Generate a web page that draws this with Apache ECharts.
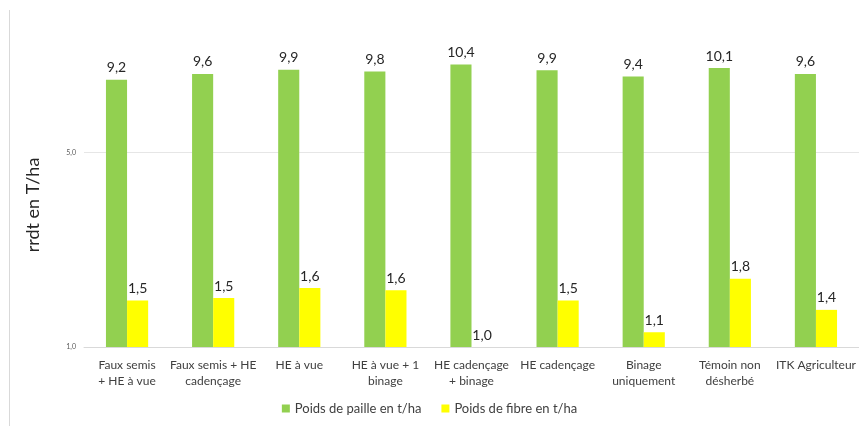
<!DOCTYPE html>
<html><head><meta charset="utf-8">
<script src="https://cdn.jsdelivr.net/npm/echarts@6/dist/echarts.min.js"></script>
<style>html,body{margin:0;padding:0;background:#fff}#c{width:859px;height:426px}</style>
</head><body><div id="c"></div>
<script>
const categories = ["Faux semis\n+ HE à vue", "Faux semis + HE\ncadençage", "HE à vue", "HE à vue + 1\nbinage", "HE cadençage\n+ binage", "HE cadençage", "Binage\nuniquement", "Témoin non\ndésherbé", "ITK Agriculteur"];
const seriesNames = ["Poids de paille en t/ha", "Poids de fibre en t/ha"];
const paille = [9.15, 9.6, 9.93, 9.8, 10.38, 9.9, 9.4, 10.07, 9.6];
const fibre = [1.47, 1.5, 1.63, 1.6, 1.0, 1.47, 1.13, 1.76, 1.36];
const yTickValues = [1, 5];

const FONT = 'Lato, "Open Sans", sans-serif';
const chart = echarts.init(document.getElementById('c'), null, {renderer: 'canvas'});
const fmt = v => Number(v).toFixed(1).replace('.', ',');
chart.setOption({
  animation: false,
  backgroundColor: '#fff',
  textStyle: {fontFamily: FONT},
  grid: {left: 84, right: 0, top: 20, bottom: 79},
  legend: {
    bottom: 6, left: 'center', itemWidth: 8, itemHeight: 8, itemGap: 20,
    icon: 'rect',
    textStyle: {fontSize: 13, color: '#404040', fontFamily: FONT},
    data: seriesNames
  },
  xAxis: {
    type: 'category', data: categories,
    axisLine: {lineStyle: {color: '#d9d9d9'}},
    axisTick: {show: false},
    axisLabel: {fontSize: 12, color: '#404040', lineHeight: 16, margin: 10, interval: 0, fontFamily: FONT}
  },
  yAxis: {
    type: 'log', logBase: 5, min: 1, max: 15,
    axisLine: {show: false},
    axisTick: {show: false, customValues: yTickValues},
    splitLine: {lineStyle: {color: '#e6e6e6'}},
    axisLabel: {fontSize: 7, color: '#595959', margin: 8, customValues: yTickValues, formatter: v => fmt(v)}
  },
  series: [
    {name: seriesNames[0], type: 'bar', data: paille, barGap: '0%', barCategoryGap: '51%',
     itemStyle: {color: '#92d050'},
     label: {show: true, position: 'top', fontSize: 14, color: '#262626', distance: 5, formatter: p => fmt(p.value), fontFamily: FONT}},
    {name: seriesNames[1], type: 'bar', data: fibre,
     itemStyle: {color: '#ffff00'},
     label: {show: true, position: 'top', fontSize: 14, color: '#262626', distance: 5, formatter: p => fmt(p.value), fontFamily: FONT}}
  ],
  graphic: [
    {type: 'line', shape: {x1: 9.5, y1: 10, x2: 9.5, y2: 426}, style: {stroke: '#d9d9d9', lineWidth: 1}},
    {type: 'text', x: 33, y: 205, rotation: Math.PI / 2,
     style: {text: 'rrdt en T/ha', fontSize: 18, fill: '#262626', fontFamily: FONT, align: 'center', verticalAlign: 'middle'}}
  ]
});
</script></body></html>
